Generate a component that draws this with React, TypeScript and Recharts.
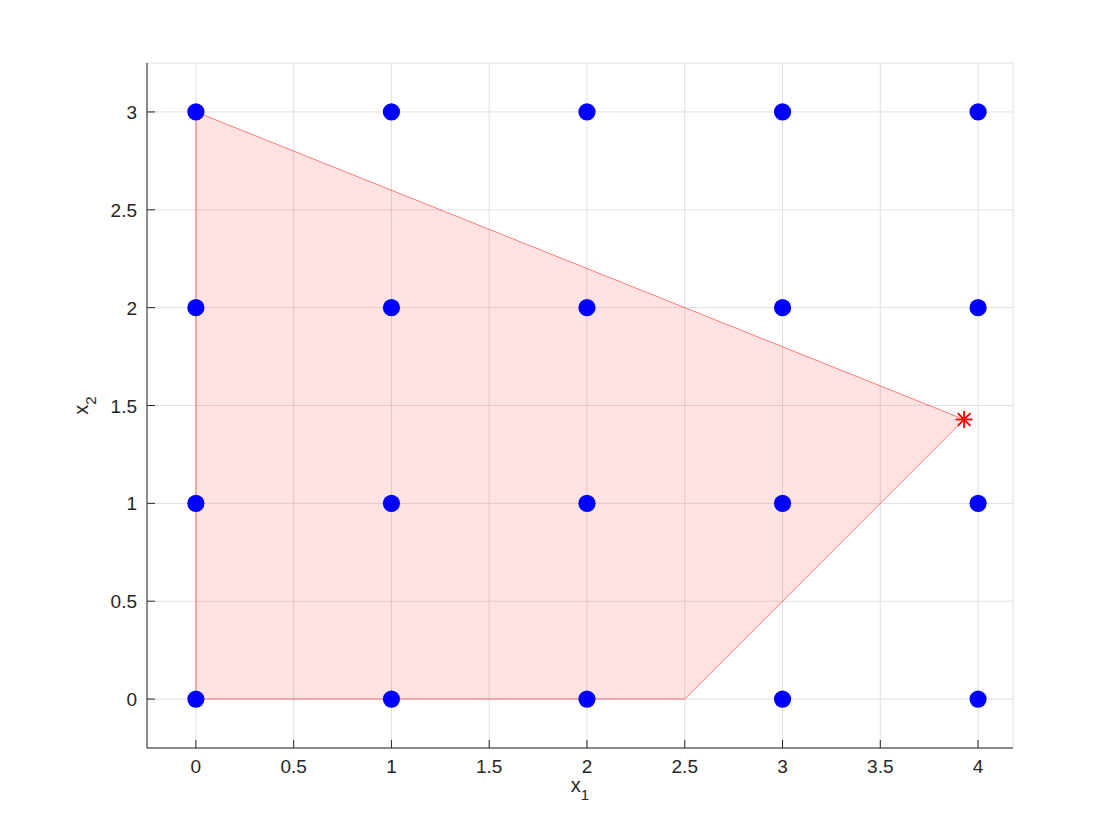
import React from "react";
import {
  ComposedChart,
  XAxis,
  YAxis,
  CartesianGrid,
  Scatter,
  Area,
  Label,
} from "recharts";

// Integer lattice points (blue dots)
const latticeX = [0, 1, 2, 3, 4];
const latticeY = [0, 1, 2, 3];
const latticePoints = latticeY.flatMap((y) => latticeX.map((x) => ({ x, y })));

// Feasible region vertices (closed outline)
const regionOutline = [
  { x: 0, y: 0 },
  { x: 2.5, y: 0 },
  { x: 3.9286, y: 1.4286 },
  { x: 0, y: 3 },
  { x: 0, y: 0 },
];

// Feasible region as range band for fill
const regionBand = [
  { x: 0, range: [0, 3] },
  { x: 2.5, range: [0, 2] },
  { x: 3.9286, range: [1.4286, 1.4286] },
];

// LP optimum (red asterisk)
const optimum = [{ x: 3.9286, y: 1.4286 }];

const xTicks = [0, 0.5, 1, 1.5, 2, 2.5, 3, 3.5, 4];
const yTicks = [0, 0.5, 1, 1.5, 2, 2.5, 3];
const xTickLabels = ["0", "0.5", "1", "1.5", "2", "2.5", "3", "3.5", "4"];
const yTickLabels = ["0", "0.5", "1", "1.5", "2", "2.5", "3"];

const FONT = "'Liberation Sans', Arial, Helvetica, sans-serif";
const TXT = "#262626";

const tickStyle: React.CSSProperties = { fontSize: "19px", fontFamily: FONT, fill: TXT };
const labelStyle: React.CSSProperties = { fontSize: "20px", fontFamily: FONT, fill: TXT };

const XTick = (props: any) => {
  const { x, y, payload } = props;
  const label = xTickLabels[xTicks.indexOf(payload.value)] ?? String(payload.value);
  return (
    <g>
      <line x1={x} y1={y} x2={x} y2={y - 8} stroke={TXT} strokeWidth={1} />
      <text x={x} y={y + 25} textAnchor="middle" style={tickStyle}>
        {label}
      </text>
    </g>
  );
};

const YTick = (props: any) => {
  const { x, y, payload } = props;
  const label = yTickLabels[yTicks.indexOf(payload.value)] ?? String(payload.value);
  return (
    <g>
      <line x1={x} y1={y} x2={x + 8} y2={y} stroke={TXT} strokeWidth={1} />
      <text x={x - 10} y={y + 7} textAnchor="end" style={tickStyle}>
        {label}
      </text>
    </g>
  );
};

const Dot = (props: any) => {
  const { cx, cy } = props;
  return <circle cx={cx} cy={cy} r={8.6} fill="#0000ff" />;
};

const Star = (props: any) => {
  const { cx, cy } = props;
  const r = 8.5;
  const d = 6.3;
  return (
    <g stroke="#ff0000" strokeWidth={1.8}>
      <line x1={cx - r} y1={cy} x2={cx + r} y2={cy} />
      <line x1={cx} y1={cy - r} x2={cx} y2={cy + r} />
      <line x1={cx - d} y1={cy - d} x2={cx + d} y2={cy + d} />
      <line x1={cx - d} y1={cy + d} x2={cx + d} y2={cy - d} />
    </g>
  );
};

const Empty = () => <g />;

const XLabel = (props: any) => {
  const vb = props.viewBox;
  const cx = vb.x + vb.width / 2;
  const y = vb.y + 44;
  return (
    <text x={cx} y={y} textAnchor="middle" style={labelStyle}>
      <tspan>x</tspan>
      <tspan style={{ fontSize: "15px" }} dy={8}>1</tspan>
    </text>
  );
};

const YLabel = () => {
  const cy = 55 + 685 / 2;
  const x = 80;
  return (
    <text
      x={x}
      y={cy}
      transform={`rotate(-90 ${x} ${cy})`}
      textAnchor="middle"
      style={labelStyle}
    >
      <tspan>x</tspan>
      <tspan style={{ fontSize: "15px" }} dy={8}>2</tspan>
    </text>
  );
};

export default function App() {
  return (
    <div style={{ width: 1104, height: 824, background: "#fff" }}>
      <ComposedChart
        width={1104}
        height={824}
        margin={{ top: 55, right: 99, bottom: 44, left: 79 }}
      >
        <CartesianGrid stroke="#e0e0e0" strokeWidth={1} />
        <XAxis
          type="number"
          dataKey="x"
          domain={[-0.25, 4.1786]}
          ticks={xTicks}
          allowDataOverflow
          height={40}
          tickSize={0}
          tickMargin={0}
          tickLine={false}
          axisLine={{ stroke: TXT, strokeWidth: 1 }}
          tick={<XTick />}
          interval={0}
        >
          <Label content={<XLabel />} />
        </XAxis>
        <YAxis
          type="number"
          dataKey="y"
          domain={[-0.25, 3.25]}
          ticks={yTicks}
          allowDataOverflow
          width={60}
          tickSize={0}
          tickMargin={0}
          tickLine={false}
          axisLine={{ stroke: TXT, strokeWidth: 1 }}
          tick={<YTick />}
          interval={0}
        >
          <Label content={<YLabel />} />
        </YAxis>
        <Area
          data={regionBand}
          dataKey="range"
          type="linear"
          fill="#ff0000"
          fillOpacity={0.11}
          stroke="none"
          dot={false}
          activeDot={false}
          isAnimationActive={false}
        />
        <Scatter
          data={regionOutline}
          line={{ stroke: "#ff0000", strokeOpacity: 0.5, strokeWidth: 1 }}
          lineType="joint"
          shape={<Empty />}
          isAnimationActive={false}
        />
        <Scatter data={latticePoints} shape={<Dot />} isAnimationActive={false} />
        <Scatter data={optimum} shape={<Star />} isAnimationActive={false} />
      </ComposedChart>
    </div>
  );
}
